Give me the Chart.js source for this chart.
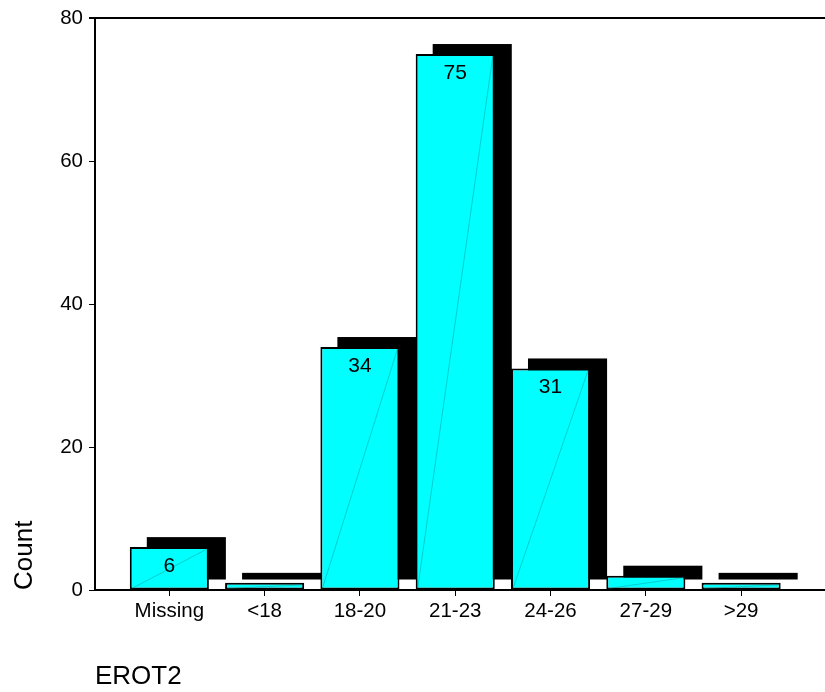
<!DOCTYPE html>
<html>
<head>
<meta charset="utf-8">
<title>EROT2</title>
<script src="https://cdn.jsdelivr.net/npm/chart.js@4"></script>
<style>
  body { margin: 0; background: #fff; }
  canvas { display: block; }
</style>
</head>
<body>
<canvas id="erotChart" width="825" height="692"></canvas>
<script>
// data
const categories = ['Missing', '<18', '18-20', '21-23', '24-26', '27-29', '>29'];
const counts = [6, 1, 34, 75, 31, 2, 1];
const yTicks = [0, 20, 40, 60, 80];

const FONT = 'Arial, "Liberation Sans", sans-serif';

// black 3D shadow behind every bar, offset right and up
const shadowPlugin = {
  id: 'barShadow',
  beforeDatasetsDraw(chart) {
    const ctx = chart.ctx;
    const meta = chart.getDatasetMeta(0);
    ctx.save();
    ctx.fillStyle = '#000';
    meta.data.forEach(bar => {
      const p = bar.getProps(['x', 'y', 'base', 'width'], true);
      ctx.fillRect(p.x - p.width / 2 + 17, p.y - 10, p.width, p.base - p.y);
    });
    ctx.restore();
  }
};

// thin diagonal and count labels inside the bars
const labelPlugin = {
  id: 'barLabels',
  afterDatasetsDraw(chart) {
    const ctx = chart.ctx;
    const meta = chart.getDatasetMeta(0);
    ctx.save();
    meta.data.forEach((bar, i) => {
      const p = bar.getProps(['x', 'y', 'base', 'width'], true);
      ctx.strokeStyle = 'rgba(0,130,130,0.55)';
      ctx.lineWidth = 0.7;
      ctx.beginPath();
      ctx.moveTo(p.x - p.width / 2 + 2, p.base - 1);
      ctx.lineTo(p.x + p.width / 2 - 2, p.y + 2);
      ctx.stroke();
      if (counts[i] > 2) {
        ctx.fillStyle = '#000';
        ctx.font = '21px ' + FONT;
        ctx.textAlign = 'center';
        ctx.textBaseline = 'middle';
        ctx.fillText(String(counts[i]), p.x, p.y + 19);
      }
    });
    ctx.restore();
  }
};

const ctx = document.getElementById('erotChart').getContext('2d');
const erotChart = new Chart(ctx, {
  type: 'bar',
  data: {
    datasets: [{
      data: categories.map((c, i) => ({ x: i, y: counts[i] })),
      backgroundColor: '#00FFFF',
      borderColor: '#000',
      borderWidth: 2,
      borderSkipped: false,
      categoryPercentage: 1,
      barPercentage: 0.83
    }]
  },
  options: {
    responsive: false,
    animation: false,
    layout: { padding: { top: 18, right: 0, left: 0, bottom: 0 } },
    plugins: {
      legend: { display: false },
      tooltip: { enabled: false }
    },
    scales: {
      x: {
        type: 'linear',
        offset: false,
        min: -0.78,
        max: 6.88,
        afterBuildTicks: s => { s.ticks = categories.map((c, i) => ({ value: i })); },
        afterFit: s => { s.height = 102; },
        grid: { offset: false, drawOnChartArea: false, drawTicks: true, tickLength: 6, color: '#000', lineWidth: 1 },
        border: { display: true, color: '#000', width: 2 },
        ticks: {
          autoSkip: false,
          maxRotation: 0,
          padding: 3,
          color: '#000',
          font: { family: FONT, size: 20.5 },
          callback: v => categories[v]
        },
        title: {
          display: true,
          text: 'EROT2',
          align: 'start',
          color: '#000',
          font: { family: FONT, size: 26 },
          padding: { top: 0, bottom: 0 }
        }
      },
      y: {
        min: 0,
        max: 80,
        afterBuildTicks: s => { s.ticks = yTicks.map(v => ({ value: v })); },
        afterFit: s => { s.width = 95; },
        grid: {
          drawOnChartArea: true,
          drawTicks: true,
          tickLength: 6,
          // only the top line (80) runs across as a frame
          color: c => (c.tick && c.tick.value === 80 ? '#000' : 'rgba(0,0,0,0)'),
          tickColor: '#000',
          lineWidth: c => (c.tick && c.tick.value === 80 ? 2 : 1)
        },
        border: { display: true, color: '#000', width: 2 },
        ticks: {
          padding: 6,
          color: '#000',
          font: { family: FONT, size: 20.5 }
        },
        title: {
          display: true,
          text: 'Count',
          align: 'start',
          color: '#000',
          font: { family: FONT, size: 26 },
          padding: { top: 9, bottom: 0 }
        }
      }
    }
  },
  plugins: [shadowPlugin, labelPlugin]
});
</script>
</body>
</html>
